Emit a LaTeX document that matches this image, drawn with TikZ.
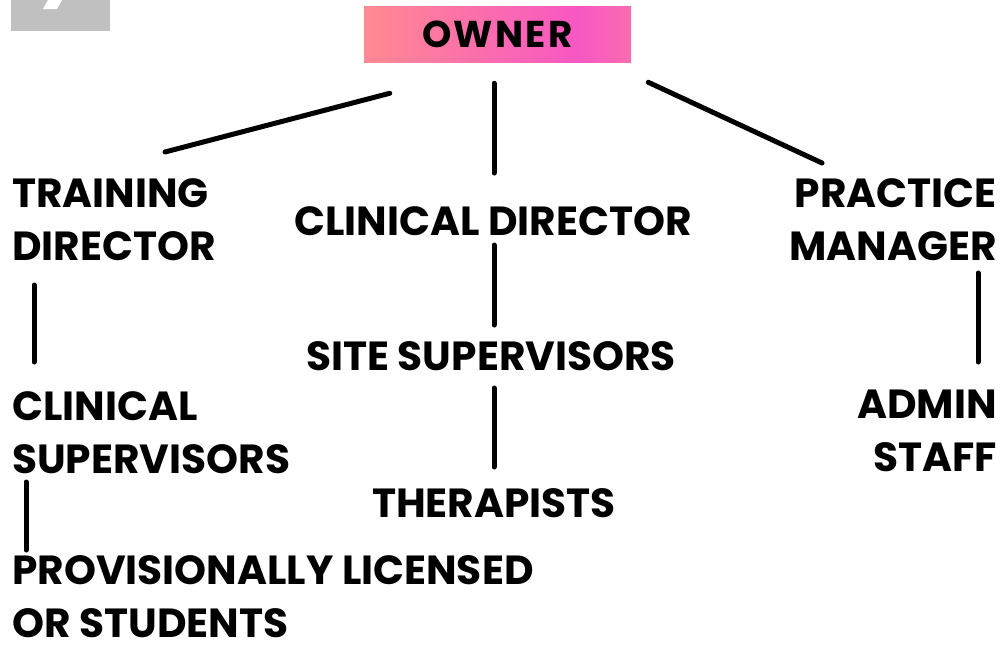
\documentclass[tikz,border=0pt]{standalone}
\usepackage{fontspec}
\setmainfont{Poppins}
\usetikzlibrary{positioning}

\definecolor{ownerleft}{RGB}{255,137,145}
\definecolor{ownermid}{RGB}{248,87,195}
\definecolor{ownerright}{RGB}{250,108,176}
\definecolor{tabgray}{RGB}{192,192,192}

\pgfdeclarehorizontalshading{ownershade}{100bp}{color(0bp)=(ownerleft); color(25bp)=(ownerleft); color(65bp)=(ownermid); color(75bp)=(ownerright); color(100bp)=(ownerright)}

\tikzset{
  role/.style={font=\bfseries\fontsize{30.5}{39.75}\selectfont, inner sep=0pt},
  ownerbox/.style={shading=ownershade, inner sep=0pt, minimum width=200.25pt, minimum height=42pt,
    font=\bfseries\fontsize{28}{30}\selectfont\addfontfeatures{LetterSpace=6}},
  link/.style={line width=3.75pt, line cap=round},
}

\begin{document}
\begin{tikzpicture}[x=0.75pt, y=-0.75pt]
            \useasboundingbox (0,0) rectangle (1004,647);

            % Grey tab in the corner
            \fill [tabgray] (11,0) rectangle (110,31);%
            \fill [white] (48,0) -- (62,0) -- (57,9) -- (43,9) -- cycle;%

            % Marking the owner
            \node [ownerbox] (owner) at (497.5,34) {OWNER};%

            % Marking the first row (base = last line)
            \node [role, align=left, anchor=base west] (train) at (12,260) {TRAINING\\DIRECTOR};%
            \node [role, anchor=base] (cdir) at (493,235) {CLINICAL DIRECTOR};%
            \node [role, align=right, anchor=base east] (pman) at (997,260) {PRACTICE\\MANAGER};%

            % Marking the second row
            \node [role, align=left, anchor=base west] (csup) at (12,473) {CLINICAL\\SUPERVISORS};%
            \node [role, anchor=base] (site) at (491,370) {SITE SUPERVISORS};%
            \node [role, align=right, anchor=base east] (admin) at (997,471) {ADMIN\\STAFF};%

            % Marking the third row
            \node [role, align=left, anchor=base west] (prov) at (12,637) {PROVISIONALLY LICENSED\\OR STUDENTS};%
            \node [role, anchor=base] (therap) at (494,517) {THERAPISTS};%

            % Drawing lines from the owner
            \draw [link] ([shift={(26,31)}]owner.south west) -- ([shift={(153,-108)}]train.base west);%
            \draw [link] ([shift={(-3.5,21)}]owner.south) -- ([shift={(1,-62)}]cdir.base);%
            \draw [link] ([shift={(17,20)}]owner.south east) -- ([shift={(-175,-97)}]pman.base east);%

            % Drawing the training line
            \draw [link] ([shift={(22,25)}]train.base west) -- ([shift={(22,-111)}]csup.base west);%
            \draw [link] ([shift={(14,9)}]csup.base west) -- ([shift={(14,-87)}]prov.base west);%

            % Drawing the clinical line
            \draw [link] ([shift={(1,10)}]cdir.base) -- ([shift={(3,-45)}]site.base);%
            \draw [link] ([shift={(3,18)}]site.base) -- ([shift={(0,-50)}]therap.base);%

            % Drawing the practice line
            \draw [link] ([shift={(-19,13)}]pman.base east) -- ([shift={(-19,-109)}]admin.base east);%
\end{tikzpicture}
\end{document}
